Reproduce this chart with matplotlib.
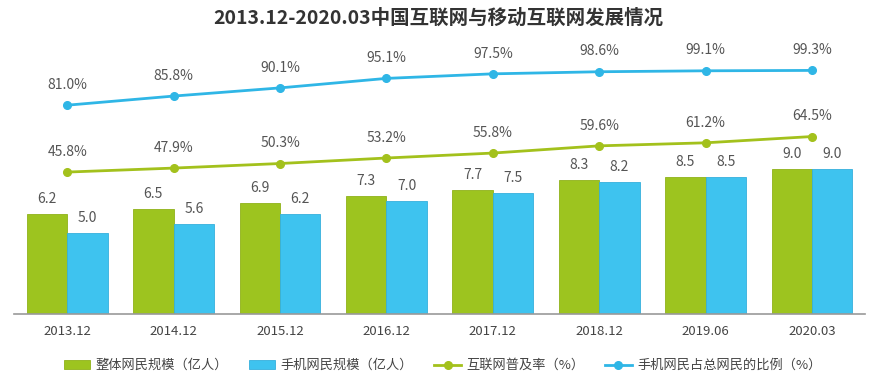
#China internet & mobile internet development, 2013.12-2020.03

#import libraries
import numpy as np
import matplotlib
matplotlib.use('Agg')
import matplotlib.pyplot as plt

plt.rcParams['font.family'] = ['Noto Sans CJK SC', 'DejaVu Sans']

#data
periods = ['2013.12', '2014.12', '2015.12', '2016.12', '2017.12', '2018.12', '2019.06', '2020.03']
netizens = [6.2, 6.5, 6.9, 7.3, 7.7, 8.3, 8.5, 9.0]
mobile_netizens = [5.0, 5.6, 6.2, 7.0, 7.5, 8.2, 8.5, 9.0]
penetration = [45.8, 47.9, 50.3, 53.2, 55.8, 59.6, 61.2, 64.5]
mobile_share = [81.0, 85.8, 90.1, 95.1, 97.5, 98.6, 99.1, 99.3]

green = '#9dc41f'
blue = '#3ec3ef'
line_green = '#a3c11c'
line_blue = '#2fb6e6'
label_color = '#555555'

fig = plt.figure(figsize=(8.94, 3.87), dpi=100)
ax = fig.add_axes([0.0157, 0.1886, 0.952, 0.708])
x = np.arange(len(periods))
w = 0.38

#bars
ax.bar(x - w/2, netizens, w, color=green, edgecolor='#8fb21a', linewidth=0.6, label='整体网民规模（亿人）')
ax.bar(x + w/2, mobile_netizens, w, color=blue, edgecolor='#35b0dc', linewidth=0.6, label='手机网民规模（亿人）')
for i in range(len(periods)):
    ax.text(x[i] - w/2, netizens[i] + 0.5, f'{netizens[i]:.1f}', ha='center', va='bottom', fontsize=10, color=label_color)
    ax.text(x[i] + w/2, mobile_netizens[i] + 0.5, f'{mobile_netizens[i]:.1f}', ha='center', va='bottom', fontsize=10, color=label_color)

ax.set_xlim(-0.5, len(periods) - 0.5)
ax.set_ylim(0, 17.0)
ax.set_yticks([])
ax.set_xticks(x)
ax.set_xticklabels(periods, fontsize=9.5, color='#444444')
ax.tick_params(axis='x', length=0, pad=8)
for s in ['top', 'right', 'left']:
    ax.spines[s].set_visible(False)
ax.spines['bottom'].set_color('#999999')
ax.spines['bottom'].set_linewidth(1.2)

#lines on second axis
ax2 = ax.twinx()
ax2.plot(x, penetration, color=line_green, lw=2, marker='o', ms=5.5, label='互联网普及率（%）')
ax2.plot(x, mobile_share, color=line_blue, lw=2, marker='o', ms=5.5, label='手机网民占总网民的比例（%）')
for i in range(len(periods)):
    ax2.text(x[i], penetration[i] + 7, f'{penetration[i]:.1f}%', ha='center', va='bottom', fontsize=10, color=label_color)
    ax2.text(x[i], mobile_share[i] + 7, f'{mobile_share[i]:.1f}%', ha='center', va='bottom', fontsize=10, color=label_color)
ax2.set_ylim(-28.9, 115.3)
ax2.set_yticks([])
for s in ['top', 'right', 'left', 'bottom']:
    ax2.spines[s].set_visible(False)

#title
fig.text(0.49, 0.952, '2013.12-2020.03中国互联网与移动互联网发展情况', ha='center', va='center',
         fontsize=14, fontweight='bold', color='#333333')

#legend
h1, l1 = ax.get_legend_handles_labels()
h2, l2 = ax2.get_legend_handles_labels()
fig.legend(h1 + h2, l1 + l2, loc='center', bbox_to_anchor=(0.495, 0.055), ncol=4, frameon=False,
           fontsize=9.5, handlelength=2.0, columnspacing=1.6, handletextpad=0.4, labelcolor='#444444')

plt.savefig('out.png', dpi=100)
